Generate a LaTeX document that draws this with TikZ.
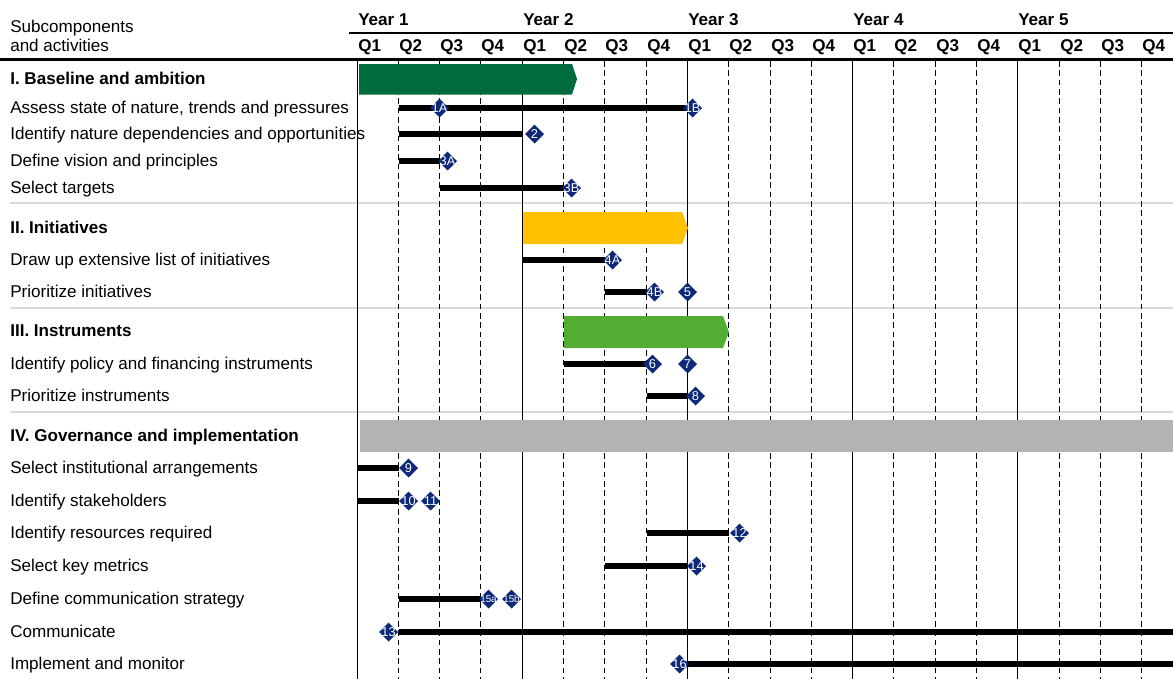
\documentclass[tikz,border=0pt]{standalone}
\usepackage{fontspec}
\setmainfont{Liberation Sans}
\usetikzlibrary{shapes.geometric,calc}

\definecolor{phaseone}{RGB}{0,107,63}
\definecolor{phasetwo}{RGB}{255,192,0}
\definecolor{phasethree}{RGB}{82,174,50}
\definecolor{phasefour}{RGB}{179,179,179}
\definecolor{milestone}{RGB}{14,40,122}
\definecolor{rule}{RGB}{217,217,217}

\tikzset{
  txt/.style={anchor=west, inner sep=0pt, yshift=0.2pt,
    font=\fontsize{12.8}{14}\selectfont, text height=9.2pt, text depth=0pt},
  head/.style={txt, font=\fontsize{12.8}{14}\selectfont\bfseries},
  yearline/.style={line width=1.05pt, black},
  qtrline/.style={line width=1.05pt, black, dash pattern=on 4.2pt off 2.8pt},
  taskbar/.style={line width=4.1pt, black},
  sepline/.style={line width=0.8pt, rule},
  msshape/.style={diamond, shape aspect=1, fill=milestone, inner sep=0pt,
    minimum width=14.4pt, minimum height=14.4pt},
  mstext/.style={text=white, inner sep=0pt, font=\fontsize{9.6}{9.6}\selectfont},
  mssmall/.style={text=white, inner sep=0pt, font=\fontsize{7.4}{7.4}\selectfont},
}

\begin{document}
\begin{tikzpicture}[x=0.75pt, y=-0.75pt]
\useasboundingbox (0,0) rectangle (1173,679);

% quarter boundaries, snapped to pixel centres
\foreach \i in {0,...,19} \coordinate (q\i) at ({floor(357+41.3*\i)+0.5},0);
\coordinate (qend) at (1173,0);

% row centres
\coordinate (r1) at (0,79);
\coordinate (r2) at (0,108);
\coordinate (r3) at (0,134);
\coordinate (r4) at (0,161);
\coordinate (r5) at (0,188);
\coordinate (r6) at (0,228);
\coordinate (r7) at (0,260);
\coordinate (r8) at (0,292);
\coordinate (r9) at (0,331);
\coordinate (r10) at (0,364);
\coordinate (r11) at (0,396);
\coordinate (r12) at (0,436);
\coordinate (r13) at (0,468);
\coordinate (r14) at (0,501);
\coordinate (r15) at (0,533);
\coordinate (r16) at (0,566);
\coordinate (r17) at (0,599);
\coordinate (r18) at (0,632);
\coordinate (r19) at (0,664);

% header
\node[txt] (hsub) at (10,27) {Subcomponents};
\node[txt] (hact) at (10,46) {and activities};
\foreach \y [count=\k from 0] in {1,...,5} {
  \pgfmathtruncatemacro\qq{4*\k}
  \node[head] (year\y) at ($(q\qq)+(0.5,19.5)$) {Year \y};
}
\foreach \i in {0,...,19} {
  \pgfmathtruncatemacro\qn{mod(\i,4)+1}
  \node[head] (ql\i) at ($(q\i)+(0.5,46)$) {Q\qn};
}
\draw[line width=0.9pt] (349,33) -- (qend |- 0,33);
\draw[line width=2.4pt] (0,59.5) -- (qend |- 0,59.5);

% section separators
\foreach \y in {203,308,412} \draw[sepline] (10,\y) -- (qend |- 0,\y);

% grid
\foreach \i in {1,2,3,5,6,7,9,10,11,13,14,15,17,18,19}
  \draw[qtrline] (q\i |- 0,61) -- (q\i |- 0,679);
\foreach \i in {0,4,8,12,16}
  \draw[yearline] (q\i |- 0,61) -- (q\i |- 0,679);

% phase bars
\fill[phaseone] (359,64) -- (572,64) -- (577,79) -- (572,94.5) -- (359,94.5) -- cycle;
\fill[phasetwo] (523,212) -- (682,212) -- (688,228) -- (682,244) -- (523,244) -- cycle;
\fill[phasethree] (564,316) -- (723,316) -- (729,332) -- (723,348) -- (564,348) -- cycle;
\fill[phasefour] (360,420) rectangle (1173,452);

% row labels
\node[head] (t1) at (r1 -| 10,0) {I. Baseline and ambition};
\node[txt] (t2) at (r2 -| 10,0) {Assess state of nature, trends and pressures};
\node[txt] (t3) at (r3 -| 10,0) {Identify nature dependencies and opportunities};
\node[txt] (t4) at (r4 -| 10,0) {Define vision and principles};
\node[txt] (t5) at (r5 -| 10,0) {Select targets};
\node[head] (t6) at (r6 -| 10,0) {II. Initiatives};
\node[txt] (t7) at (r7 -| 10,0) {Draw up extensive list of initiatives};
\node[txt] (t8) at (r8 -| 10,0) {Prioritize initiatives};
\node[head] (t9) at (r9 -| 10,0) {III. Instruments};
\node[txt] (t10) at (r10 -| 10,0) {Identify policy and financing instruments};
\node[txt] (t11) at (r11 -| 10,0) {Prioritize instruments};
\node[head] (t12) at (r12 -| 10,0) {IV. Governance and implementation};
\node[txt] (t13) at (r13 -| 10,0) {Select institutional arrangements};
\node[txt] (t14) at (r14 -| 10,0) {Identify stakeholders};
\node[txt] (t15) at (r15 -| 10,0) {Identify resources required};
\node[txt] (t16) at (r16 -| 10,0) {Select key metrics};
\node[txt] (t17) at (r17 -| 10,0) {Define communication strategy};
\node[txt] (t18) at (r18 -| 10,0) {Communicate};
\node[txt] (t19) at (r19 -| 10,0) {Implement and monitor};

% activity bars
\draw[taskbar] (q1 |- r2) -- (q8 |- r2);
\draw[taskbar] (q1 |- r3) -- (q4 |- r3);
\draw[taskbar] (q1 |- r4) -- (q2 |- r4);
\draw[taskbar] (q2 |- r5) -- (q5 |- r5);
\draw[taskbar] (q4 |- r7) -- (q6 |- r7);
\draw[taskbar] (q6 |- r8) -- (q7 |- r8);
\draw[taskbar] (q5 |- r10) -- (q7 |- r10);
\draw[taskbar] (q7 |- r11) -- (q8 |- r11);
\draw[taskbar] (q0 |- r13) -- (q1 |- r13);
\draw[taskbar] (q0 |- r14) -- (q1 |- r14);
\draw[taskbar] (q7 |- r15) -- (q9 |- r15);
\draw[taskbar] (q6 |- r16) -- (q8 |- r16);
\draw[taskbar] (q1 |- r17) -- (q3 |- r17);
\draw[taskbar] (q1 |- r18) -- (qend |- r18);
\draw[taskbar] (q8 |- r19) -- (qend |- r19);

% milestones
\foreach \nm/\qi/\dx/\row/\st in {
    1A/2/0/2/mstext, 1B/8/5/2/mstext, 2/4/12/3/mstext, 3A/2/8/4/mstext,
    3B/5/8/5/mstext, 4A/6/8/7/mstext, 4B/7/8/8/mstext, 5/8/0/8/mstext,
    6/7/6/10/mstext, 7/8/0/10/mstext, 8/8/8/11/mstext, 9/1/10/13/mstext,
    10/1/10/14/mstext, 11/1/32/14/mstext, 12/9/11/15/mstext, 14/8/9/16/mstext,
    15a/3/8/17/mssmall, 15b/3/31/17/mssmall, 13/1/-10/18/mstext, 16/8/-8/19/mstext} {
  \node[msshape] (m\nm) at ($(q\qi |- r\row)+(\dx,0)$) {};
  \node[\st] (ml\nm) at (m\nm) {\nm};
}
\end{tikzpicture}
\end{document}
